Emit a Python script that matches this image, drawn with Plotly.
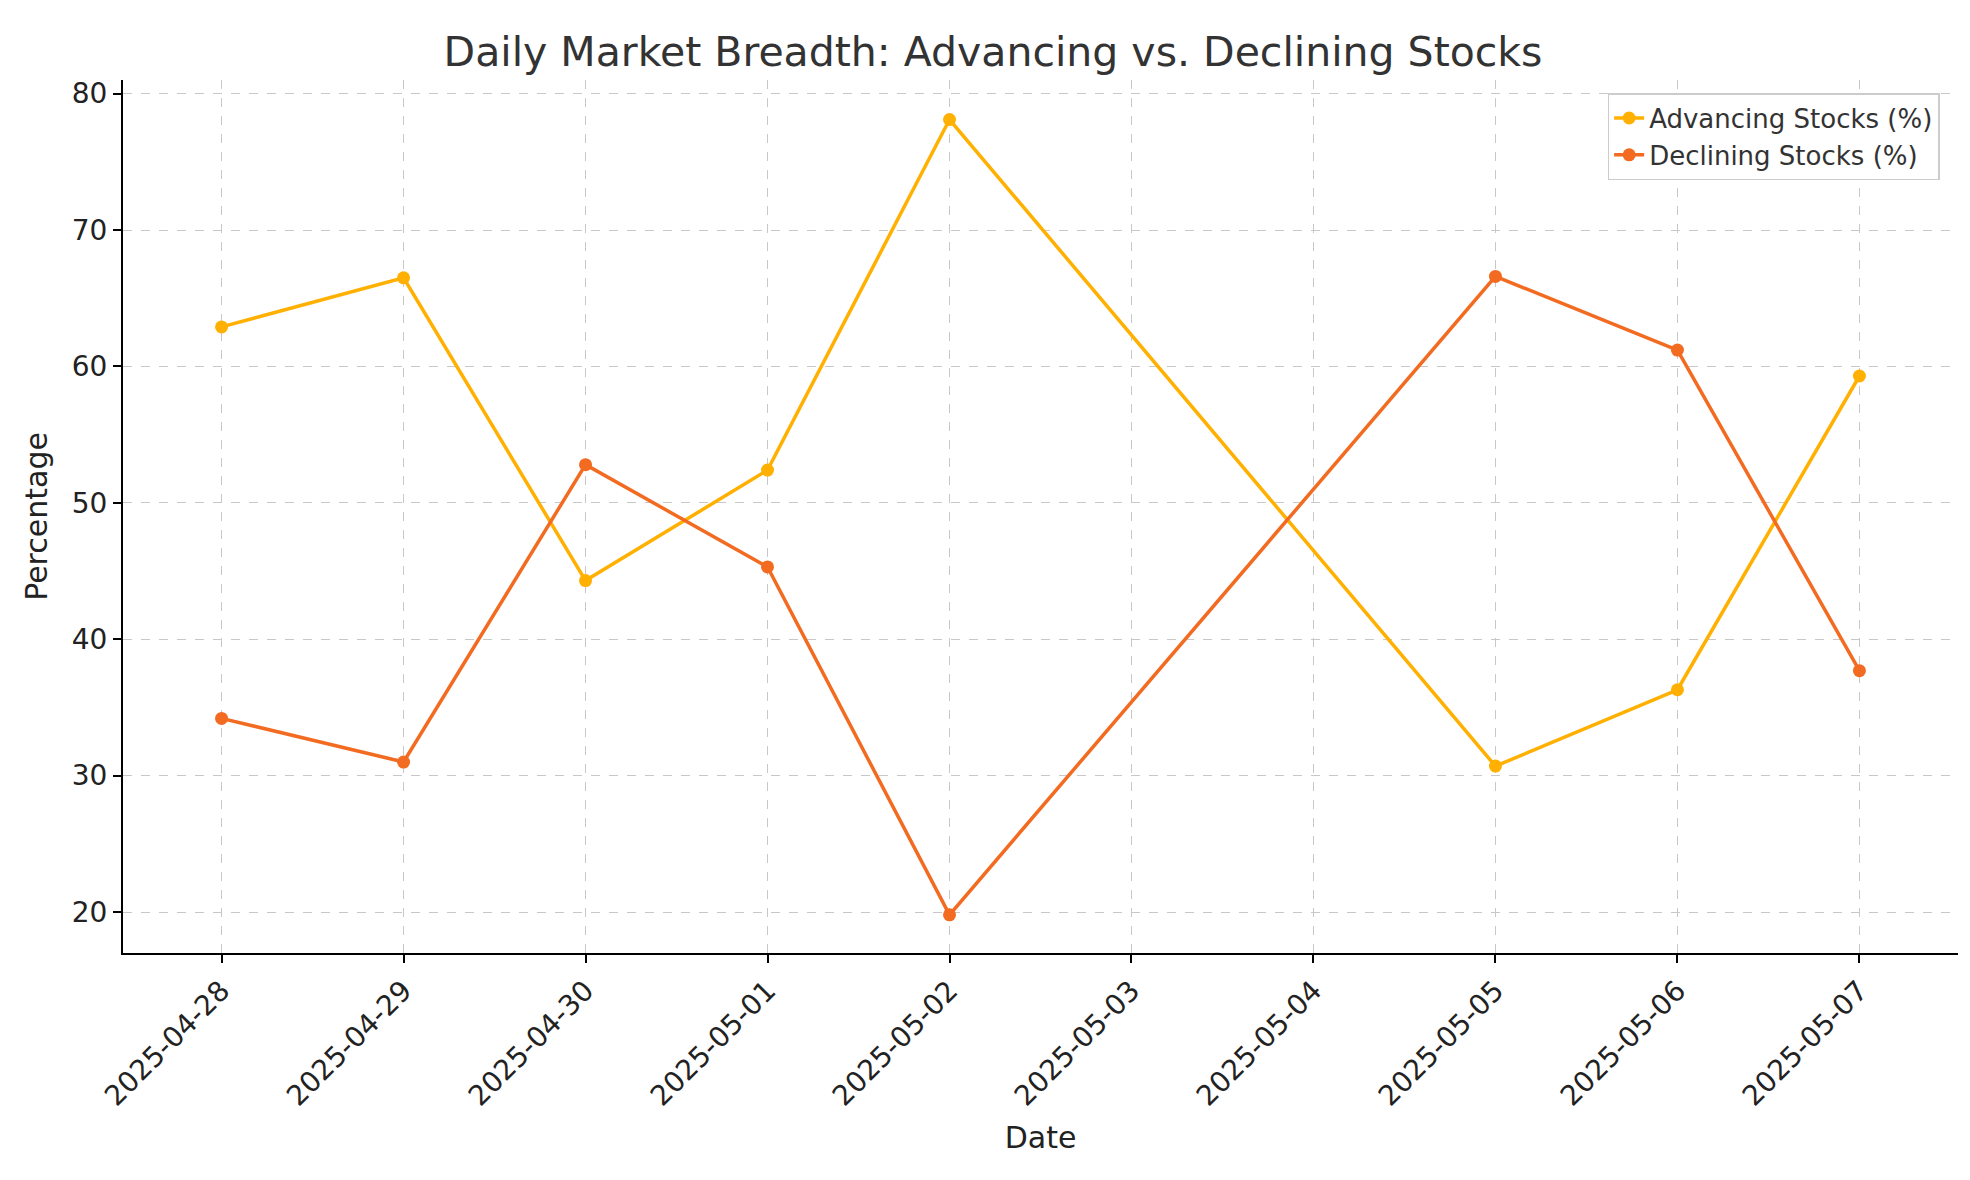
import plotly.graph_objects as go

dates = ["2025-04-28", "2025-04-29", "2025-04-30", "2025-05-01", "2025-05-02",
         "2025-05-05", "2025-05-06", "2025-05-07"]
advancing = [62.9, 66.5, 44.3, 52.4, 78.1, 30.7, 36.3, 59.3]
declining = [34.2, 31.0, 52.8, 45.3, 19.8, 66.6, 61.2, 37.7]

tick_days = ["2025-04-28", "2025-04-29", "2025-04-30", "2025-05-01", "2025-05-02",
             "2025-05-03", "2025-05-04", "2025-05-05", "2025-05-06", "2025-05-07"]

fig = go.Figure()
fig.add_trace(go.Scatter(x=dates, y=advancing, mode="lines+markers", name="Advancing Stocks (%)",
                         line=dict(color="#FFB000", width=3.5), marker=dict(size=13)))
fig.add_trace(go.Scatter(x=dates, y=declining, mode="lines+markers", name="Declining Stocks (%)",
                         line=dict(color="#F26B21", width=3.5), marker=dict(size=13)))

axis_common = dict(showline=True, linecolor="black", linewidth=2, ticks="outside",
                   tickcolor="black", ticklen=8, tickwidth=1.5, showgrid=True, gridcolor="#c8c8c8",
                   griddash="dash", gridwidth=1.2, zeroline=False, mirror=False,
                   tickfont=dict(size=28, color="#222"))

fig.update_layout(
    width=1970, height=1180,
    font=dict(family="DejaVu Sans", color="#333"),
    plot_bgcolor="white", paper_bgcolor="white",
    title=dict(text="Daily Market Breadth: Advancing vs. Declining Stocks", x=0.5, xanchor="center",
               y=0.975, font=dict(size=41, color="#333")),
    margin=dict(l=115, r=20, t=72, b=235),
    xaxis=dict(axis_common, type="date", tickvals=tick_days, ticktext=tick_days, tickangle=-45,
               range=["2025-04-27 11:00", "2025-05-07 13:00"],
               title=dict(text="Date", font=dict(size=30, color="#222"))),
    yaxis=dict(axis_common, range=[17, 81], tickvals=[20, 30, 40, 50, 60, 70, 80],
               title=dict(text="Percentage", font=dict(size=30, color="#222"))),
    legend=dict(x=0.99, y=0.985, xanchor="right", yanchor="top", bgcolor="white",
                bordercolor="#ccc", borderwidth=1.5, font=dict(size=26, color="#333")),
)

fig.write_html("out.html")
